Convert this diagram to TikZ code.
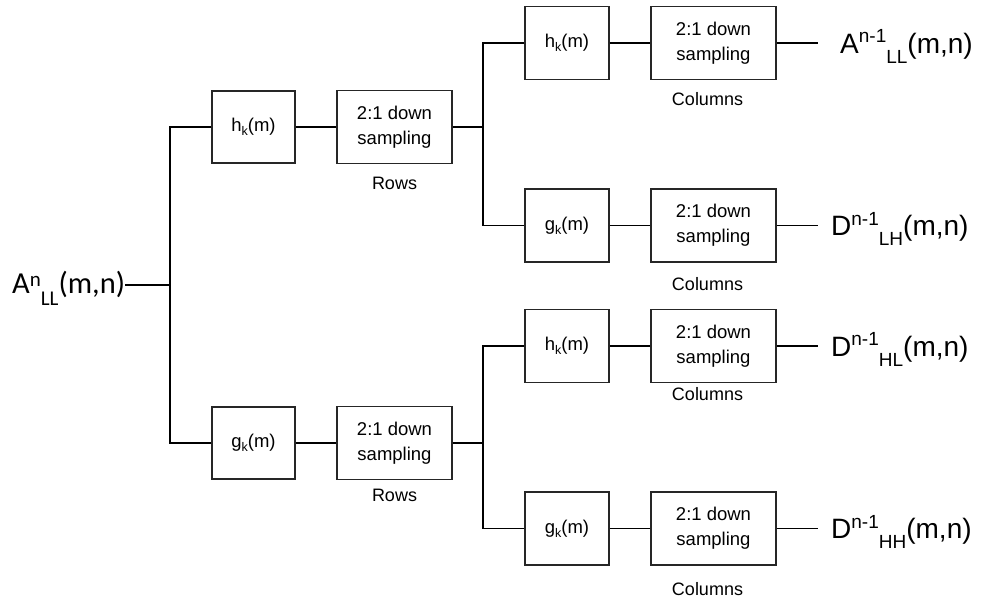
\documentclass[tikz,border=0pt]{standalone}
\usepackage{fontspec}
\setmainfont{Liberation Sans}
\newfontfamily\inlabelfont{Carlito}

% text helpers
\newcommand\boxfont{\fontsize{18.5}{25}\selectfont}
\newcommand\filt[2]{#1\raisebox{-0.22em}{\fontsize{12.5}{12.5}\selectfont #2}(m)}
\newcommand\outlab[2]{\fontsize{28}{30}\selectfont #1%
  \raisebox{0.36em}{\fontsize{19}{19}\selectfont n-1}%
  \raisebox{-0.36em}{\fontsize{19}{19}\selectfont #2}(m,n)}

\begin{document}
\begin{tikzpicture}[x=1pt,y=-1pt,
    conn/.style={line width=1.5pt,black},
    blockbox/.style={draw=black!85,line width=1.2pt,inner sep=0pt,align=center,font=\boxfont},
    filterbox/.style={blockbox,minimum width=84pt,minimum height=73pt},
    sampbox/.style={blockbox,minimum height=73pt},
    caption/.style={inner sep=0pt,font=\fontsize{18}{20}\selectfont}]
  \useasboundingbox (0,0) rectangle (984,600);

  % input signal and first split
  \node[inner sep=0pt,anchor=base west,font=\inlabelfont\fontsize{30.5}{32}\selectfont] (in) at (12,293)
    {A\raisebox{0.2em}{\fontsize{21}{21}\selectfont n}\raisebox{-0.42em}{\fontsize{21}{21}\selectfont LL}(m,n)};
  \coordinate (j0) at (170,285);

  % row stage
  \node[filterbox,minimum width=83pt,minimum height=72pt] (h1) at (253.5,127) {\filt{h}{k}};
  \node[filterbox,minimum width=83pt,minimum height=72pt] (g1) at (253.5,443) {\filt{g}{k}};
  \node[sampbox,minimum width=115pt] (r1) at (394.5,127) {2:1 down\\sampling};
  \node[sampbox,minimum width=115pt] (r2) at (394.5,443) {2:1 down\\sampling};
  \node[caption] (rows1) at (394.5,183) {Rows};
  \node[caption] (rows2) at (394.5,495) {Rows};
  \coordinate (j1) at (483,127);
  \coordinate (j2) at (483,443);

  % column stage
  \node[filterbox] (hh) at (567,43)    {\filt{h}{k}};
  \node[filterbox] (hg) at (567,225.5) {\filt{g}{k}};
  \node[filterbox] (gh) at (567,346)   {\filt{h}{k}};
  \node[filterbox] (gg) at (567,528.5) {\filt{g}{k}};
  \node[sampbox,minimum width=125pt] (c1) at (713.5,43)    {2:1 down\\sampling};
  \node[sampbox,minimum width=125pt] (c2) at (713.5,225.5) {2:1 down\\sampling};
  \node[sampbox,minimum width=125pt] (c3) at (713.5,346)   {2:1 down\\sampling};
  \node[sampbox,minimum width=125pt] (c4) at (713.5,528.5) {2:1 down\\sampling};
  \node[caption] (col1) at (707.5,99)  {Columns};
  \node[caption] (col2) at (707.5,284) {Columns};
  \node[caption] (col3) at (707.5,394) {Columns};
  \node[caption] (col4) at (707.5,589) {Columns};

  % outputs
  \coordinate (e1) at (818,43);
  \coordinate (e2) at (818,225.5);
  \coordinate (e3) at (818,346);
  \coordinate (e4) at (818,528.5);
  \node[inner sep=0pt,anchor=base west] (o1) at (840,53)    {\outlab{A}{LL}};
  \node[inner sep=0pt,anchor=base west] (o2) at (831,235.5) {\outlab{D}{LH}};
  \node[inner sep=0pt,anchor=base west] (o3) at (831,356)   {\outlab{D}{HL}};
  \node[inner sep=0pt,anchor=base west] (o4) at (831,538.5) {\outlab{D}{HH}};

  % connectors
  \draw[conn] (in.east |- j0) -- (j0);
  \draw[conn] (h1.west) -| (j0) |- (g1.west);
  \draw[conn] (h1) -- (r1);
  \draw[conn] (g1) -- (r2);
  \draw[conn] (r1) -- (j1);
  \draw[conn] (r2) -- (j2);
  \draw[conn] (hh.west) -| (j1) |- (hg.west);
  \draw[conn] (gh.west) -| (j2) |- (gg.west);
  \draw[conn] (hh) -- (c1);
  \draw[conn] (hg) -- (c2);
  \draw[conn] (gh) -- (c3);
  \draw[conn] (gg) -- (c4);
  \draw[conn] (c1) -- (e1);
  \draw[conn] (c2) -- (e2);
  \draw[conn] (c3) -- (e3);
  \draw[conn] (c4) -- (e4);
\end{tikzpicture}
\end{document}
